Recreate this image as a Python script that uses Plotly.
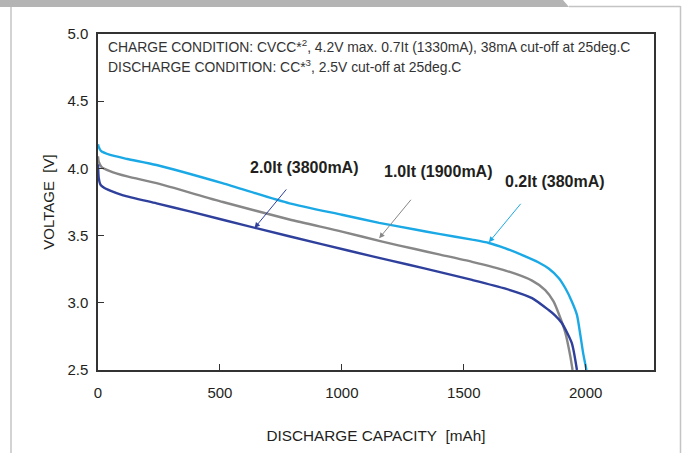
import plotly.graph_objects as go

# ---- data ----
cap_02 = [0, 3, 12, 50, 120, 240, 510, 785, 1000, 1153, 1300, 1398, 1534, 1603, 1671, 1740, 1807, 1848, 1889, 1916, 1943, 1964, 1978, 1990, 2003]
v_02 = [4.18, 4.16, 4.13, 4.10, 4.07, 4.025, 3.89, 3.74, 3.655, 3.595, 3.545, 3.513, 3.47, 3.445, 3.405, 3.355, 3.30, 3.255, 3.185, 3.11, 3.01, 2.91, 2.76, 2.62, 2.50]

cap_10 = [0, 3, 15, 49, 120, 240, 512, 785, 1000, 1166, 1300, 1398, 1534, 1671, 1780, 1834, 1868, 1889, 1916, 1937, 1946]
v_10 = [4.09, 4.05, 4.01, 3.98, 3.94, 3.89, 3.75, 3.62, 3.53, 3.455, 3.40, 3.36, 3.305, 3.24, 3.165, 3.095, 3.01, 2.92, 2.78, 2.60, 2.50]

cap_20 = [0, 3, 10, 22, 50, 103, 240, 376, 649, 921, 1126, 1270, 1398, 1534, 1671, 1780, 1848, 1875, 1902, 1943, 1964]
v_20 = [4.03, 3.93, 3.88, 3.86, 3.835, 3.80, 3.74, 3.68, 3.555, 3.435, 3.345, 3.285, 3.23, 3.17, 3.105, 3.035, 2.946, 2.905, 2.85, 2.70, 2.50]

series_names = ["0.2It (380mA)", "1.0It (1900mA)", "2.0It (3800mA)"]
x_ticks = [0, 500, 1000, 1500, 2000]
y_ticks = [2.5, 3.0, 3.5, 4.0, 4.5, 5.0]
y_tick_text = ["2.5", "3.0", "3.5", "4.0", "4.5", "5.0"]

# label anchors / arrow tips (data coords)
label_pos = {"2.0It (3800mA)": (848, 4.007), "1.0It (1900mA)": (1396, 3.98), "0.2It (380mA)": (1872, 3.90)}
arrow_tip = {"2.0It (3800mA)": (642, 3.557), "1.0It (1900mA)": (1153, 3.48), "0.2It (380mA)": (1603, 3.45)}

C_LB = "#1BA9E6"
C_GR = "#878787"
C_DB = "#2F409C"

W, H = 687, 453
L, R, T, B = 98, 654, 34, 370


def px_x(px):
    return (px - L) / (R - L)


def px_y(py):
    return (B - py) / (B - T)


fig = go.Figure()
for xs, ys, col, nm in [(cap_10, v_10, C_GR, series_names[1]),
                        (cap_20, v_20, C_DB, series_names[2]),
                        (cap_02, v_02, C_LB, series_names[0])]:
    fig.add_trace(go.Scatter(x=xs, y=ys, mode="lines", name=nm,
                             line=dict(color=col, width=2.4, shape="spline", smoothing=0.6),
                             showlegend=False, hoverinfo="skip"))

font_main = "Liberation Sans, Arial, sans-serif"

annotations = []
colors = {"2.0It (3800mA)": C_DB, "1.0It (1900mA)": C_GR, "0.2It (380mA)": C_LB}
for nm in series_names:
    lx, ly = label_pos[nm]
    annotations.append(dict(x=lx, y=ly, xref="x", yref="y", text="<b>%s</b>" % nm,
                            showarrow=False, font=dict(family=font_main, size=16, color="#231f20")))
    tx, ty = arrow_tip[nm]
    annotations.append(dict(x=tx, y=ty, xref="x", yref="y", text="", showarrow=True,
                            ax=33, ay=-40, arrowhead=2, arrowsize=1.1, arrowwidth=1,
                            arrowcolor=colors[nm], standoff=0, startstandoff=0))

annotations.append(dict(x=px_x(106), y=px_y(46), xref="paper", yref="paper", xanchor="left",
                        yanchor="middle", showarrow=False,
                        text="CHARGE CONDITION: CVCC*<sup>2</sup>, 4.2V max. 0.7It (1330mA), 38mA cut-off at 25deg.C",
                        font=dict(family=font_main, size=13.9, color="#333333")))
annotations.append(dict(x=px_x(106), y=px_y(66), xref="paper", yref="paper", xanchor="left",
                        yanchor="middle", showarrow=False,
                        text="DISCHARGE CONDITION: CC*<sup>3</sup>, 2.5V cut-off at 25deg.C",
                        font=dict(family=font_main, size=13.9, color="#333333")))

shapes = [
    # top grey tab
    dict(type="path", xref="paper", yref="paper",
         path="M %f,%f L %f,%f L %f,%f L %f,%f Z" % (px_x(0), px_y(0), px_x(563), px_y(0),
                                                   px_x(569), px_y(7), px_x(0), px_y(7)),
         fillcolor="#b4b4b4", line=dict(width=0), layer="above"),
    dict(type="line", xref="paper", yref="paper", x0=px_x(569), y0=px_y(6.5), x1=px_x(680.5), y1=px_y(6.5),
         line=dict(color="#c4c4c4", width=1.5)),
    dict(type="line", xref="paper", yref="paper", x0=px_x(680.5), y0=px_y(6), x1=px_x(680.5), y1=px_y(453),
         line=dict(color="#c4c4c4", width=1.5)),
    dict(type="line", xref="paper", yref="paper", x0=px_x(11), y0=px_y(7), x1=px_x(11), y1=px_y(453),
         line=dict(color="#c4c4c4", width=1.5)),
]

fig.update_layout(
    width=W, height=H,
    margin=dict(l=L, r=W - R, t=T, b=H - B, pad=0),
    paper_bgcolor="white", plot_bgcolor="white",
    font=dict(family=font_main, size=15, color="#231f20"),
    annotations=annotations, shapes=shapes,
)
fig.update_xaxes(range=[0, 2280], tickvals=x_ticks, ticks="inside", ticklen=6, tickwidth=1,
                 tickcolor="#333", showline=True, linecolor="#333", linewidth=1.5, mirror=True,
                 showgrid=False, zeroline=False, tickfont=dict(size=15), ticklabelstandoff=8,
                 title=dict(text="DISCHARGE CAPACITY\u00a0 [mAh]", standoff=31, font=dict(size=15.3)))
fig.update_yaxes(range=[2.5, 5.0], tickvals=y_ticks, ticktext=y_tick_text, ticks="inside", ticklen=6,
                 tickwidth=1, tickcolor="#333", showline=True, linecolor="#333", linewidth=1.5,
                 mirror=True, showgrid=False, zeroline=False, tickfont=dict(size=15), ticklabelstandoff=5,
                 title=dict(text="VOLTAGE\u00a0 [V]", standoff=9, font=dict(size=15)))

fig.write_html("out.html", config={"displayModeBar": False},
               post_script="document.body.style.margin='0';")
